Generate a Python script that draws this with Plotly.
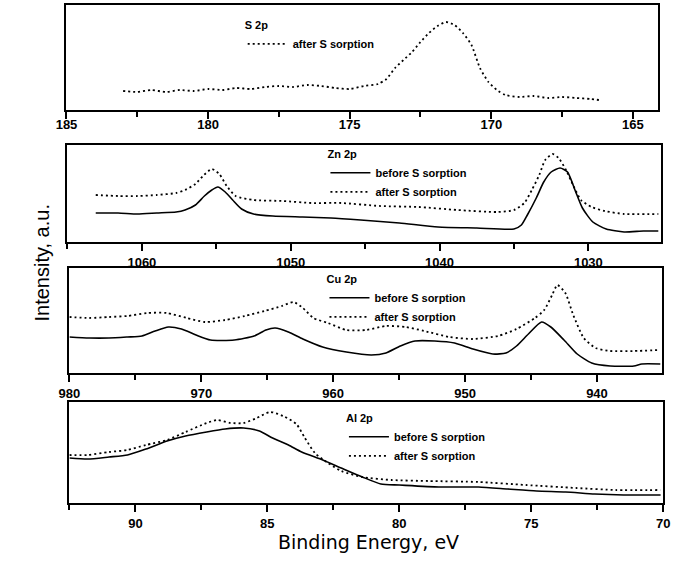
import plotly.graph_objects as go

W, H = 679, 570

# ---------------- data (intensity in arbitrary units) ----------------
# S 2p, after S sorption
s_E = [183.0, 182.5, 182.0, 181.5, 181.0, 180.5, 180.0, 179.5, 179.0, 178.5, 178.0, 177.5,
       177.0, 176.5, 176.0, 175.5, 175.0, 174.5, 174.0, 173.7, 173.4, 173.1, 172.8, 172.5,
       172.2, 171.9, 171.6, 171.3, 171.0, 170.7, 170.4, 170.1, 169.8, 169.5, 169.0, 168.5,
       168.0, 167.5, 167.0, 166.5, 166.2]
s_after = [19, 18, 20, 18, 20, 19, 21, 20, 22, 21, 23, 24,
           23, 25, 24, 22, 21, 24, 26, 31, 42, 50, 58, 68,
           77, 84, 88, 85, 77, 65, 42, 28, 20, 15, 13, 14,
           12, 13, 12, 11, 10]

# Zn 2p
zn_E_before = [1063.1, 1061.6, 1060.3, 1059.0, 1057.7, 1057.1, 1056.4, 1055.8, 1055.3, 1054.9,
               1054.4, 1053.9, 1053.3, 1052.5, 1051.2, 1049.2, 1047.3, 1045.3, 1042.7, 1040.1,
               1037.5, 1035.0, 1034.5, 1034.1, 1033.5, 1033.0, 1032.5, 1031.9, 1031.4, 1030.9,
               1030.4, 1029.7, 1028.8, 1027.6, 1026.3, 1025.3]
zn_before = [29, 29, 28, 29, 30, 32, 37, 46, 52, 55,
             50, 42, 33, 28, 26, 25, 24, 22, 19, 15,
             14, 13, 17, 27, 44, 60, 70, 74, 70, 52,
             34, 20, 13, 10, 11, 11]
zn_E_after = [1063.1, 1061.6, 1060.3, 1059.0, 1057.7, 1057.1, 1056.4, 1055.9, 1055.3, 1054.8,
              1054.3, 1053.7, 1052.5, 1050.5, 1048.6, 1046.6, 1044.0, 1041.4, 1038.8, 1036.1,
              1035.0, 1034.3, 1033.8, 1033.3, 1032.9, 1032.4, 1032.0, 1031.5, 1031.0, 1030.5,
              1029.8, 1028.9, 1027.6, 1025.3]
zn_after = [47, 46, 46, 47, 49, 52, 58, 66, 73, 68,
            56, 46, 42, 41, 39, 39, 36, 35, 32, 30,
            32, 39, 52, 67, 82, 88, 84, 72, 56, 42,
            35, 31, 28, 28]

# Cu 2p
cu_E_before = [980.0, 978.5, 977.0, 975.6, 974.5, 973.5, 972.5, 971.5, 970.4, 969.3,
               967.5, 966.0, 965.1, 964.4, 963.4, 962.3, 960.8, 959.0, 957.1, 956.0,
               954.9, 953.8, 952.3, 950.8, 949.4, 947.9, 946.9, 946.1, 945.2, 944.2,
               943.5, 942.5, 941.5, 940.4, 939.0, 937.2, 936.6, 935.2]
cu_before = [36, 35, 35, 36, 37, 42, 46, 44, 38, 33,
             33, 37, 43, 45, 41, 34, 26, 21, 18, 20,
             27, 32, 32, 30, 24, 19, 20, 27, 39, 51,
             46, 33, 19, 10, 7, 7, 9, 9]
cu_E_after = [980.0, 978.5, 977.0, 975.6, 974.1, 972.6, 971.1, 969.7, 968.2, 966.7,
              965.2, 963.9, 963.0, 962.3, 961.5, 960.4, 959.0, 957.5, 956.0, 954.5,
              953.1, 951.2, 949.4, 947.5, 946.1, 944.7, 944.0, 943.4, 943.0, 942.4,
              941.8, 941.0, 940.1, 939.0, 937.2, 935.2]
cu_after = [56, 55, 56, 57, 60, 60, 55, 51, 53, 57,
            62, 67, 71, 65, 55, 50, 43, 43, 47, 46,
            42, 36, 34, 37, 44, 55, 63, 78, 88, 80,
            58, 35, 25, 22, 22, 23]

# Al 2p
al_E_before = [92.5, 91.8, 91.0, 90.3, 89.6, 88.8, 88.1, 87.3, 86.6, 85.9, 85.3, 84.8, 84.2,
               83.7, 82.9, 82.2, 81.4, 80.7, 80.0, 78.5, 77.0, 75.9, 74.8, 73.7, 72.6, 71.5, 70.1]
al_before = [45, 44, 46, 48, 54, 62, 67, 71, 74, 75, 72, 65, 58,
             51, 43, 35, 26, 19, 18, 16, 16, 14, 12, 11, 9, 8, 8]
al_E_after = [92.5, 91.8, 91.0, 90.3, 89.6, 88.8, 88.1, 87.3, 86.9, 86.4, 85.9, 85.4, 84.9, 84.4,
              83.9, 83.6, 83.2, 82.7, 82.2, 81.4, 80.3, 78.9, 77.0, 75.2, 73.3, 71.8, 70.1]
al_after = [48, 48, 51, 53, 58, 63, 71, 80, 83, 80, 80, 85, 91, 87,
            79, 66, 50, 40, 32, 26, 23, 22, 21, 18, 15, 13, 13]

panel_labels = ["S 2p", "Zn 2p", "Cu 2p", "Al 2p"]
before_name = "before S sorption"
after_name = "after S sorption"
x_title = "Binding Energy, eV"
y_title = "Intensity, a.u."

# ---------------- layout helpers ----------------
def py(v):
    return 1 - v / H

def px(v):
    return v / W

panels = [
    # (left px, right px, top px, bottom px, x range, major dtick, minor dtick, y max,
    #  legend x px, legend top px, tick label standoff)
    (57, 665, 5, 110, [185, 164.1], 5, 2.5, 105, 238, 15, -6),
    (58, 668, 145, 242, [1065, 1025.1], 10, 5, 97, 323, 144, 0),
    (60, 669, 268, 373, [980.0, 935.05], 10, 5, 105, 322, 269, 0),
    (60, 670, 402, 503, [92.5, 70.0], 5, 2.5, 101, 342, 408, 0),
]

fig = go.Figure()

solid = dict(color="black", width=1.6)
dotted = dict(color="black", width=1.8, dash="2px,3px")

series = [
    [(None, None, None), (s_E, s_after, "after")],
    [(zn_E_before, zn_before, "before"), (zn_E_after, zn_after, "after")],
    [(cu_E_before, cu_before, "before"), (cu_E_after, cu_after, "after")],
    [(al_E_before, al_before, "before"), (al_E_after, al_after, "after")],
]

tick_font = dict(family="Liberation Sans", size=13, color="black", weight="bold")
leg_font = dict(family="Liberation Sans", size=11, color="black", weight="bold")

for i, (left, right, top, bot, xr, dt, mdt, ymax, lx, ltop, stand) in enumerate(panels):
    n = i + 1
    xa = "x" if n == 1 else f"x{n}"
    ya = "y" if n == 1 else f"y{n}"
    lg = "legend" if n == 1 else f"legend{n}"
    for E, I, kind in series[i]:
        if E is None:
            continue
        fig.add_trace(go.Scatter(
            x=E, y=I, mode="lines", xaxis=xa, yaxis=ya, legend=lg,
            name=before_name if kind == "before" else after_name,
            line=dict(solid if kind == "before" else dotted, shape="spline", smoothing=0.6),
            hoverinfo="skip",
        ))
    xkey = "xaxis" if n == 1 else f"xaxis{n}"
    ykey = "yaxis" if n == 1 else f"yaxis{n}"
    fig.update_layout(**{
        xkey: dict(domain=[px(left), px(right)], anchor=ya, range=xr, showgrid=False,
                   zeroline=False, showline=True, mirror=True, linecolor="black", linewidth=2,
                   ticks="outside", ticklen=7, tickwidth=2, tickcolor="black",
                   tick0=0, dtick=dt, tickfont=tick_font, ticklabelstandoff=stand,
                   minor=dict(dtick=mdt, tick0=0, ticks="outside", ticklen=5,
                              tickwidth=1.5, tickcolor="black", showgrid=False)),
        ykey: dict(domain=[py(bot), py(top)], anchor=xa, range=[0, ymax], showgrid=False,
                   zeroline=False, showline=True, mirror=True, linecolor="black",
                   linewidth=2, ticks="", showticklabels=False),
        lg: dict(x=px(lx), y=py(ltop), xanchor="left", yanchor="top",
                 bgcolor="rgba(0,0,0,0)", borderwidth=0, font=leg_font,
                 title=dict(text=panel_labels[i], font=leg_font),
                 tracegroupgap=0, itemwidth=40, traceorder="normal"),
    })

fig.add_annotation(x=px(18), y=py(263), xref="paper", yref="paper", text=y_title,
                   textangle=-90, showarrow=False,
                   font=dict(family="Liberation Sans", size=20, color="black"))
fig.add_annotation(x=px(367), y=py(555), xref="paper", yref="paper", text=x_title,
                   showarrow=False,
                   font=dict(family="DejaVu Sans", size=19, color="black"))

fig.update_layout(width=W, height=H, margin=dict(l=0, r=0, t=0, b=0),
                  paper_bgcolor="white", plot_bgcolor="white", showlegend=True)

fig.write_html("out.html")
